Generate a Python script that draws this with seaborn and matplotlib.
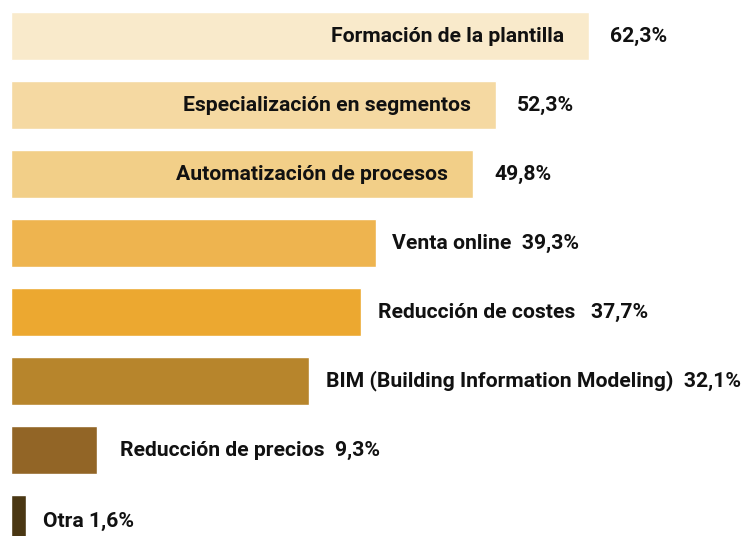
import matplotlib
matplotlib.use("Agg")
import matplotlib.pyplot as plt
import seaborn as sns
import pandas as pd

# Chart data
CATEGORIES = [
    "Formación de la plantilla",
    "Especialización en segmentos",
    "Automatización de procesos",
    "Venta online",
    "Reducción de costes",
    "BIM (Building Information Modeling)",
    "Reducción de precios",
    "Otra",
]
VALUES = [62.3, 52.3, 49.8, 39.3, 37.7, 32.1, 9.3, 1.6]
COLORS = ["#F9EACB", "#F5D9A2", "#F2CF88", "#EEB44F",
          "#ECA830", "#B7852C", "#926526", "#4A3713"]

INSIDE_THRESHOLD = 45  # bars longer than this carry their label inside
FONT = dict(fontsize=15.2, fontweight="bold", color="#111111")


def fmt(v):
    return f"{v:.1f}".replace(".", ",") + "%"


def main():
    sns.set_theme(style="white")
    plt.rcParams["font.family"] = ["Roboto", "DejaVu Sans"]

    df = pd.DataFrame({"cat": CATEGORIES, "val": VALUES})

    fig = plt.figure(figsize=(7.48, 5.36), dpi=100)
    ax = fig.add_axes([0, 0, 1, 1])
    sns.barplot(data=df, x="val", y="cat", hue="cat", palette=COLORS,
                orient="h", width=0.696, legend=False, ax=ax, saturation=1)

    px = 9.28  # pixels per unit
    ax.set_xlim(-11 / px, (748 - 11) / px)
    ax.set_ylim(7.246, -0.522)
    ax.axis("off")

    for i, (c, v) in enumerate(zip(CATEGORIES, VALUES)):
        if v > INSIDE_THRESHOLD:
            ax.annotate(c, (v, i), xytext=(-18, 0), textcoords="offset points",
                        ha="right", va="center", **FONT)
            ax.annotate(fmt(v), (v, i), xytext=(15, 0), textcoords="offset points",
                        ha="left", va="center", **FONT)
        else:
            sep = " " if c == "Otra" else "  "
            if c == "Reducción de costes":
                sep = "   "
            dx = 16 if c == "Reducción de precios" else 12
            ax.annotate(c + sep + fmt(v), (v, i), xytext=(dx, -2 if i == 7 else 0),
                        textcoords="offset points", ha="left", va="center", **FONT)

    fig.savefig("out.png", dpi=100)
    plt.close(fig)


if __name__ == "__main__":
    main()
